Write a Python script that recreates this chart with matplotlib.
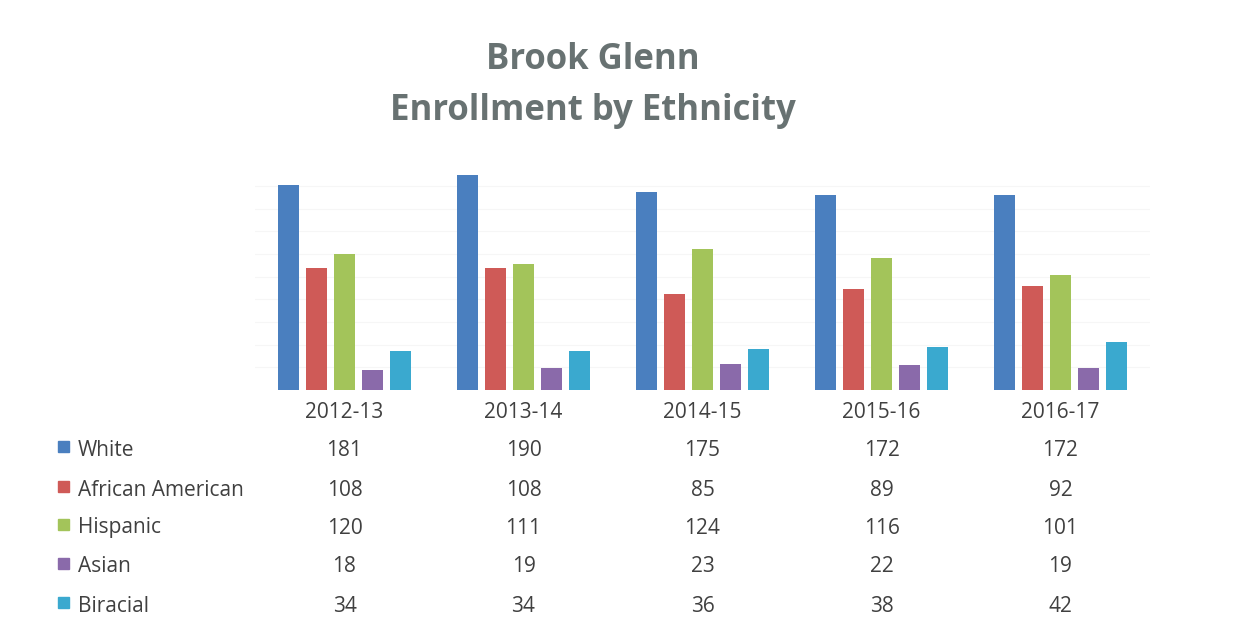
import numpy as np
import matplotlib.pyplot as plt
from matplotlib.transforms import blended_transform_factory

years = ['2012-13', '2013-14', '2014-15', '2015-16', '2016-17']
groups = ['White', 'African American', 'Hispanic', 'Asian', 'Biracial']
white = [181, 190, 175, 172, 172]
african_american = [108, 108, 85, 89, 92]
hispanic = [120, 111, 124, 116, 101]
asian = [18, 19, 23, 22, 19]
biracial = [34, 34, 36, 38, 42]
colors = ['#4a7fbf', '#cf5a57', '#a3c45a', '#8a6aaa', '#3aa9cf']

series = [white, african_american, hispanic, asian, biracial]

plt.rcParams['font.family'] = ['Open Sans', 'DejaVu Sans']

fig = plt.figure(figsize=(12.37, 6.29), dpi=100)
ax = fig.add_axes([255 / 1237, 1 - 390 / 629, 895 / 1237, 220 / 629])

x = np.arange(len(years))
slot = 28 / 179
for i, (vals, col) in enumerate(zip(series, colors)):
    ax.bar(x + (i - 2) * slot, vals, width=21 / 179, color=col, zorder=2)

ax.set_xlim(-0.5, len(years) - 0.5)
ax.set_ylim(0, 194)
ax.set_yticks(np.arange(20, 200, 20))
ax.yaxis.grid(True, color='#f6f6f6', linewidth=0.8, zorder=0)
ax.tick_params(axis='y', left=False, labelleft=False)
ax.tick_params(axis='x', length=0, pad=9, labelsize=15, labelcolor='#404040')
ax.set_xticks(x)
ax.set_xticklabels(years)
for s in ax.spines.values():
    s.set_visible(False)

fig.text(593 / 1237, 1 - 60 / 629, 'Brook Glenn', ha='center', va='center',
         fontsize=25, fontweight='bold', color='#687272')
fig.text(593 / 1237, 1 - 111 / 629, 'Enrollment by Ethnicity', ha='center', va='center',
         fontsize=25, fontweight='bold', color='#687272')

# data table under the chart
trans = blended_transform_factory(ax.transData, fig.transFigure)
row_y = [450, 490, 528, 567, 606]
for name, vals, col, yp in zip(groups, series, colors, row_y):
    yf = 1 - yp / 629
    fig.patches.append(plt.Rectangle((58 / 1237, yf - 2 / 629), 11 / 1237, 11 / 629,
                                     transform=fig.transFigure, color=col))
    fig.text(78 / 1237, yf, name, ha='left', va='center', fontsize=15, color='#404040')
    for xi, v in zip(x, vals):
        ax.text(xi, yf, str(v), transform=trans, ha='center', va='center',
                fontsize=15, color='#404040')

plt.savefig('out.png', dpi=100, facecolor='white')
